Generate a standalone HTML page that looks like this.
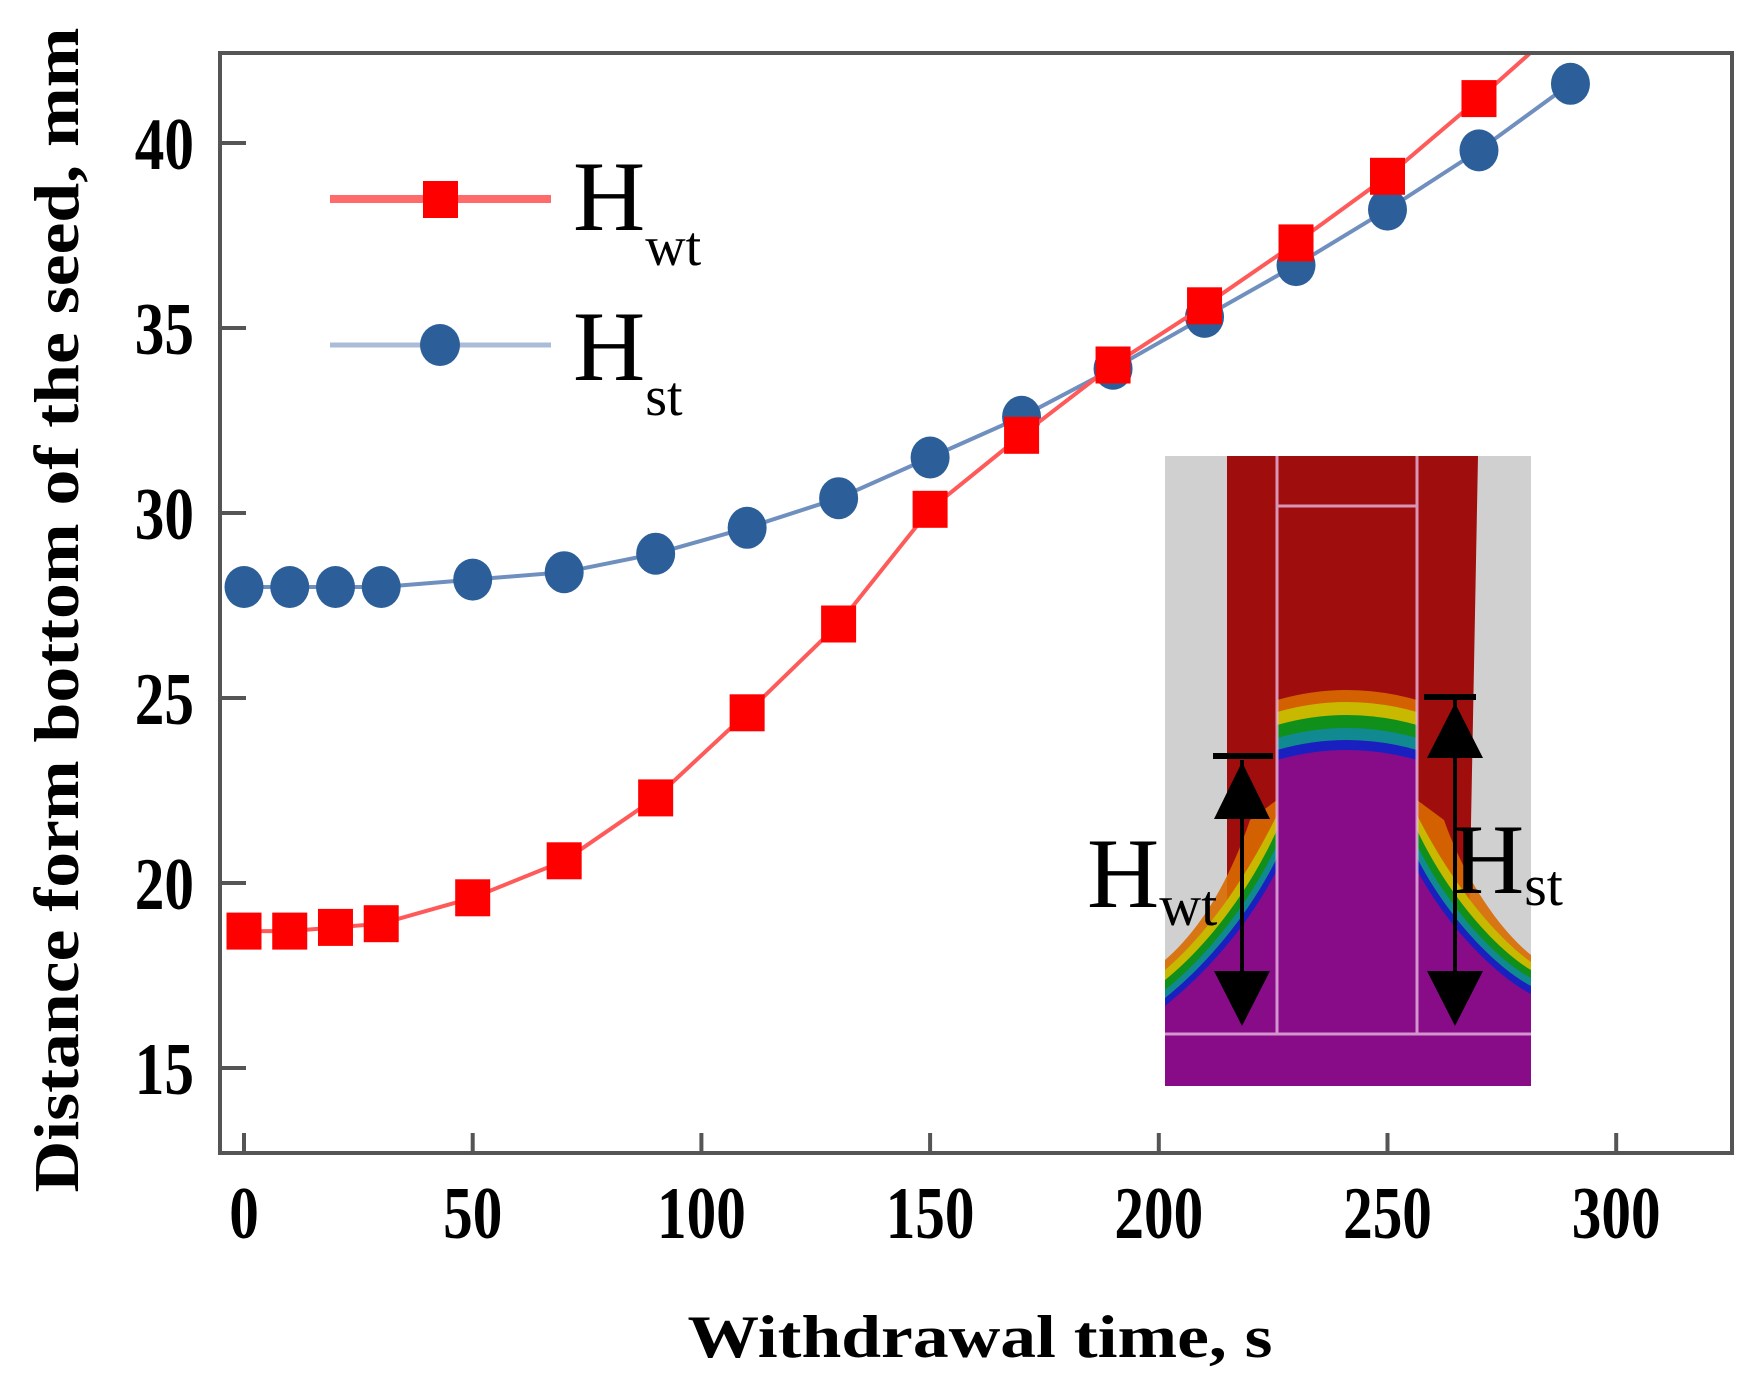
<!DOCTYPE html>
<html><head><meta charset="utf-8"><style>
html,body{margin:0;padding:0;background:#fff;}
svg{display:block;font-family:"Liberation Serif",serif;}
</style></head><body>
<svg id="chart" width="1757" height="1386" viewBox="0 0 1757 1386">
<defs>
<clipPath id="plotclip"><rect x="220" y="53" width="1512" height="1100"/></clipPath>
</defs>
<g id="marks" clip-path="url(#plotclip)"></g>
<g id="inset">
  <rect x="1165" y="456" width="366" height="630" fill="#d0d0d0"/>
  <path d="M1227,456 L1478,456 L1466,1086 L1227,1086 Z" fill="#a00d0d"/>
  <path d="M1165,960 C1200,930 1230,880 1250,820 L1277,800 L1277,700 Q1347,680 1417,700 L1417,800 L1444,820 C1465,880 1500,930 1531,955 L1531,1086 L1165,1086 Z" fill="#d86a00" opacity="0.9"/>
  <path d="M1165,970 C1200,940 1240,890 1277,815 L1277,712 Q1347,692 1417,712 L1417,815 C1455,890 1500,940 1531,962 L1531,1086 L1165,1086 Z" fill="#c8b800"/>
  <path d="M1165,980 C1200,952 1245,900 1277,830 L1277,725 Q1347,705 1417,725 L1417,830 C1450,900 1500,952 1531,970 L1531,1086 L1165,1086 Z" fill="#10901a"/>
  <path d="M1165,990 C1200,962 1245,912 1277,845 L1277,738 Q1347,718 1417,738 L1417,845 C1450,912 1500,962 1531,978 L1531,1086 L1165,1086 Z" fill="#108a90"/>
  <path d="M1165,998 C1200,970 1245,922 1277,858 L1277,750 Q1347,730 1417,750 L1417,858 C1450,922 1500,970 1531,986 L1531,1086 L1165,1086 Z" fill="#1a20c0"/>
  <path d="M1165,1006 C1200,978 1245,932 1277,870 L1277,760 Q1347,740 1417,760 L1417,870 C1450,932 1500,978 1531,994 L1531,1086 L1165,1086 Z" fill="#880c88"/>
  <g stroke="#e8b8e0" stroke-width="3" fill="none" opacity="0.8">
    <line x1="1277" y1="456" x2="1277" y2="1034"/>
    <line x1="1417" y1="456" x2="1417" y2="1034"/>
    <line x1="1277" y1="506" x2="1417" y2="506"/>
    <line x1="1165" y1="1034" x2="1531" y2="1034"/>
  </g>
  <g>
    <line x1="1242" y1="760" x2="1242" y2="1000" stroke="#000" stroke-width="4"/>
    <line x1="1213" y1="756" x2="1273" y2="756" stroke="#000" stroke-width="6"/>
    <polygon points="1242,762 1214,819 1270,819" fill="#000"/>
    <polygon points="1242,1026 1214,971 1270,971" fill="#000"/>
  </g>
  <g>
    <line x1="1455" y1="700" x2="1455" y2="1000" stroke="#000" stroke-width="4"/>
    <line x1="1424" y1="697" x2="1476" y2="697" stroke="#000" stroke-width="6"/>
    <polygon points="1455,703 1427,758 1483,758" fill="#000"/>
    <polygon points="1455,1026 1427,971 1483,971" fill="#000"/>
  </g>
  <text x="1087" y="907" font-size="100">H<tspan font-size="58" dy="18">wt</tspan></text>
  <text x="1452" y="893" font-size="100">H<tspan font-size="58" dy="12">st</tspan></text>
</g>
<rect x="220" y="53" width="1512" height="1100" fill="none" stroke="#555" stroke-width="4"/>
<g id="axes"></g>
<g>
  <g>
    <line x1="330" y1="199" x2="551" y2="199" stroke="#ff6a6a" stroke-width="8"/>
    <rect x="423" y="181" width="35" height="37" fill="#ff0000"/>
    <text x="573" y="230" font-size="100">H<tspan font-size="56" dy="35">wt</tspan></text>
  </g>
  <g>
    <line x1="330" y1="345" x2="551" y2="345" stroke="#aabcd8" stroke-width="5"/>
    <ellipse cx="440" cy="345" rx="20" ry="21" fill="#2c5f99"/>
    <text x="573" y="380" font-size="100">H<tspan font-size="56" dy="35">st</tspan></text>
  </g>
</g>
<text x="980" y="1357" font-size="60" font-weight="bold" text-anchor="middle" textLength="585" lengthAdjust="spacingAndGlyphs">Withdrawal time, s</text>
<text transform="translate(78,610) rotate(-90)" font-size="64" font-weight="bold" text-anchor="middle" textLength="1165" lengthAdjust="spacingAndGlyphs">Distance form bottom of the seed,  mm</text>
</svg>
<script>
const times = [0,10,20,30,50,70,90,110,130,150,170,190,210,230,250,270,290];
const hwtValues = [18.7,18.7,18.8,18.9,19.6,20.6,22.3,24.6,27.0,30.1,32.1,34.0,35.6,37.3,39.1,41.2,43.4];
const hstValues = [28.0,28.0,28.0,28.0,28.2,28.4,28.9,29.6,30.4,31.5,32.6,33.9,35.3,36.7,38.2,39.8,41.6];
const xTicks = [0,50,100,150,200,250,300];
const yTicks = [15,20,25,30,35,40];

const NS = 'http://www.w3.org/2000/svg';
function xs(t){ return 244 + (t - 0) * (228.7/50); }
function ys(v){ return 143 + (40 - v) * (185/5); }
function mk(tag, attrs, parent){
  const e = document.createElementNS(NS, tag);
  for (const k in attrs) e.setAttribute(k, attrs[k]);
  parent.appendChild(e);
  return e;
}
const marks = document.getElementById('marks');
const axes = document.getElementById('axes');

xTicks.forEach(t => {
  const tk = mk('line', {x1: xs(t), x2: xs(t), y1: 1153, y2: 1133, stroke: '#555', 'stroke-width': 4}, axes);
  
  
  const lb = mk('text', {x: xs(t), y: 1238, 'font-size': 74, 'font-weight': 'bold', 'text-anchor': 'middle', transform: 'translate(' + (xs(t)*0.2) + ',0) scale(0.8,1)'}, axes);
  lb.textContent = t;
  
  
});
yTicks.forEach(v => {
  const tk = mk('line', {x1: 220, x2: 246, y1: ys(v), y2: ys(v), stroke: '#555', 'stroke-width': 4}, axes);
  
  
  const lb = mk('text', {x: 194, y: ys(v) + 26, 'font-size': 74, 'font-weight': 'bold', 'text-anchor': 'end', transform: 'translate(' + (194*0.2) + ',0) scale(0.8,1)'}, axes);
  lb.textContent = v;
  
  
});

function series(vals, color, lineColor, width, shape, name){
  const pts = times.map((t,i) => xs(t) + ',' + ys(vals[i])).join(' ');
  const pl = mk('polyline', {points: pts, fill: 'none', stroke: lineColor, 'stroke-width': width}, marks);
  
  
  times.forEach((t,i) => {
    let m;
    if (shape === 'square') {
      m = mk('rect', {x: xs(t) - 17.5, y: ys(vals[i]) - 18.5, width: 35, height: 37, fill: color}, marks);
    } else {
      m = mk('ellipse', {cx: xs(t), cy: ys(vals[i]), rx: 19.5, ry: 21, fill: color}, marks);
    }
    
    
  });
}
series(hstValues, '#2c5f99', '#6f8fbf', 4, 'circle', 'hst');
series(hwtValues, '#ff0000', '#ff5a5a', 4, 'square', 'hwt');
</script>
</body></html>
